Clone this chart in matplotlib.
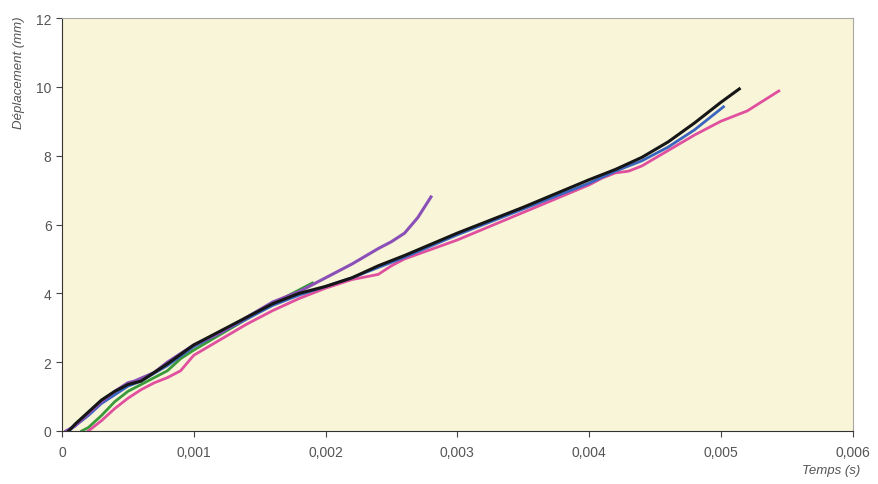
import numpy as np
import matplotlib.pyplot as plt
from matplotlib.ticker import FuncFormatter

plt.rcParams['font.family'] = ['Liberation Sans', 'DejaVu Sans']

# series (time in s, displacement in mm)
t_purple = [0.00003, 0.0001, 0.0002, 0.0003, 0.0004, 0.0005, 0.00055, 0.0007, 0.0008, 0.001, 0.0012, 0.0014,
            0.0016, 0.0018, 0.002, 0.0022, 0.0024, 0.0025, 0.0026, 0.0027, 0.00275, 0.0028]
d_purple = [0.0, 0.15, 0.5, 0.85, 1.15, 1.4, 1.45, 1.7, 2.0, 2.5, 2.85, 3.3,
            3.75, 4.05, 4.45, 4.85, 5.3, 5.5, 5.75, 6.2, 6.5, 6.8]

t_green = [0.00015, 0.0002, 0.0003, 0.0004, 0.0005, 0.0006, 0.0007, 0.0008, 0.0009, 0.001, 0.0012,
           0.0014, 0.0016, 0.0018, 0.0019]
d_green = [0.0, 0.1, 0.45, 0.85, 1.15, 1.35, 1.55, 1.75, 2.1, 2.35, 2.8,
           3.25, 3.7, 4.1, 4.3]

t_blue = [0.00005, 0.0001, 0.0002, 0.0003, 0.0004, 0.0005, 0.0006, 0.0008, 0.001, 0.0012, 0.0014, 0.0016,
          0.0018, 0.002, 0.0022, 0.0024, 0.0026, 0.003, 0.0035, 0.004, 0.0042, 0.0044, 0.0046, 0.0048, 0.00502]
d_blue = [0.0, 0.15, 0.45, 0.8, 1.05, 1.3, 1.45, 1.9, 2.45, 2.85, 3.25, 3.65,
          3.95, 4.2, 4.45, 4.75, 5.05, 5.7, 6.45, 7.2, 7.55, 7.85, 8.25, 8.75, 9.42]

t_black = [0.00005, 0.0001, 0.0002, 0.0003, 0.0004, 0.0005, 0.0006, 0.0008, 0.001, 0.0012, 0.0014, 0.0016,
           0.0018, 0.002, 0.0022, 0.0024, 0.0026, 0.003, 0.0035, 0.004, 0.0042, 0.0044, 0.0046, 0.0048, 0.0050,
           0.00514]
d_black = [0.0, 0.2, 0.55, 0.9, 1.15, 1.35, 1.45, 1.95, 2.5, 2.9, 3.3, 3.7,
           4.0, 4.2, 4.45, 4.8, 5.1, 5.75, 6.5, 7.3, 7.6, 7.95, 8.4, 8.95, 9.55,
           9.94]

t_pink = [0.0002, 0.0003, 0.0004, 0.0005, 0.0006, 0.0007, 0.0008, 0.0009, 0.001, 0.0012, 0.0014, 0.0016,
          0.0018, 0.002, 0.0022, 0.0024, 0.0025, 0.0026, 0.003, 0.0035, 0.004, 0.0041, 0.0042, 0.0043,
          0.0044, 0.0046, 0.0048, 0.005, 0.0052, 0.00544]
d_pink = [0.0, 0.3, 0.65, 0.95, 1.2, 1.4, 1.55, 1.75, 2.2, 2.65, 3.1, 3.5,
          3.85, 4.15, 4.4, 4.55, 4.8, 5.0, 5.55, 6.35, 7.15, 7.35, 7.5, 7.55,
          7.7, 8.15, 8.6, 9.0, 9.3, 9.88]

fig = plt.figure(figsize=(8.79, 4.85), dpi=100)
ax = fig.add_axes([0.0705, 0.1093, 0.8995, 0.8515])
ax.set_facecolor('#f8f5d8')

ax.plot(t_green, d_green, color='#3a9a3a', lw=2)
ax.plot(t_pink, d_pink, color='#e0509e', lw=2)
ax.plot(t_blue, d_blue, color='#3a66c0', lw=2)
ax.plot(t_purple, d_purple, color='#8a50b8', lw=2.2)
ax.plot(t_black, d_black, color='#161616', lw=2.2)

ax.set_xlim(0, 0.006)
ax.set_ylim(0, 12)
ax.set_xticks(np.arange(0, 0.0061, 0.001))
ax.set_yticks(np.arange(0, 13, 2))
ax.xaxis.set_major_formatter(FuncFormatter(lambda v, p: '0' if v == 0 else f'{v:.3f}'.replace('.', ',')))
ax.tick_params(direction='out', length=4, colors='#444444', labelcolor='#555555', labelsize=10)
ax.tick_params(axis='x', pad=6)

for s in ['left', 'bottom']:
    ax.spines[s].set_color('#333333')
for s in ['top', 'right']:
    ax.spines[s].set_color('#a8a8a8')

fig.text(0.022, 0.965, 'Déplacement (mm)', rotation=90, ha='center', va='top',
         style='italic', fontsize=9.5, color='#555555')
fig.text(0.979, 0.029, 'Temps (s)', ha='right', va='center',
         style='italic', fontsize=9.5, color='#555555')

fig.savefig('out.png', dpi=100)
